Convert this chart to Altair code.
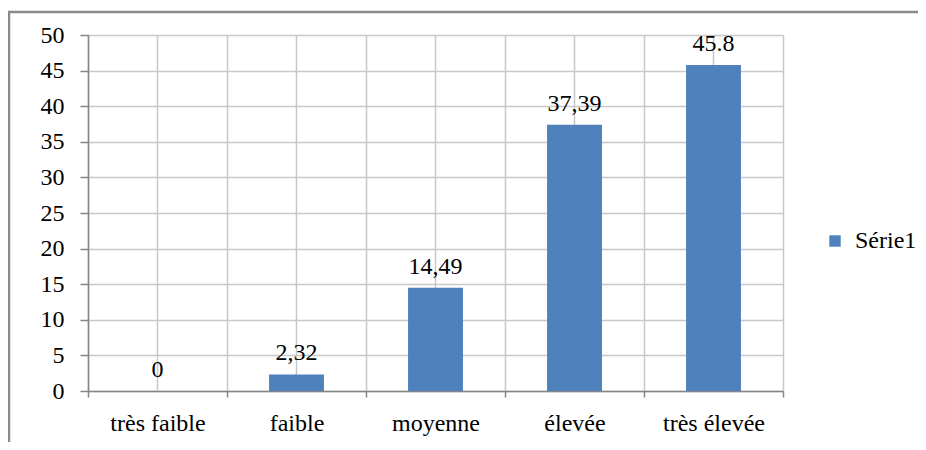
import altair as alt
import pandas as pd

categories = ["très faible", "faible", "moyenne", "élevée", "très élevée"]
values = [0, 2.32, 14.49, 37.39, 45.8]
value_labels = ["0", "2,32", "14,49", "37,39", "45.8"]
series = ["Série1"] * 5
y_ticks = list(range(0, 51, 5))

df = pd.DataFrame({"cat": categories, "val": values, "lab": value_labels, "serie": series})

FONT = "Times New Roman, Liberation Serif, serif"
GRID = "#c8c8c8"
AXIS = "#868686"
BLUE = "#4F81BD"
FS = 24

x_enc = alt.X(
    "cat:N", sort=categories,
    scale=alt.Scale(paddingInner=0, paddingOuter=0),
    axis=alt.Axis(title=None, labelAngle=0, tickBand="extent", grid=True,
                  gridColor=GRID, gridWidth=1.5, tickSize=6, tickColor=AXIS,
                  tickWidth=1.5, domainColor=AXIS, domainWidth=1.5,
                  labelPadding=14, labelFontSize=FS, labelFont=FONT,
                  labelColor="black", labelOverlap=False),
)
y_scale = alt.Scale(domain=[0, 50], nice=False)
y_axis = alt.Axis(values=y_ticks, title=None, grid=True, gridColor=GRID,
                  gridWidth=1.5, tickSize=8, tickColor=AXIS, tickWidth=1.5,
                  domainColor=AXIS, domainWidth=1.5, labelPadding=16,
                  labelFontSize=FS, labelFont=FONT, labelColor="black",
                  labelOverlap=False, labelFlush=False)
y_enc = alt.Y("val:Q", scale=y_scale, axis=y_axis)

base = alt.Chart(df)

centers = base.mark_rule(color=GRID, strokeWidth=1.5).encode(x=x_enc)

bars = base.mark_bar(width=alt.RelativeBandSize(0.395)).encode(
    x=x_enc,
    y=y_enc,
    color=alt.Color(
        "serie:N",
        scale=alt.Scale(domain=["Série1"], range=[BLUE]),
        legend=alt.Legend(title=None, orient="none", legendX=735, legendY=194,
                          symbolType="square", symbolSize=130,
                          symbolStrokeWidth=0, labelFontSize=FS,
                          labelFont=FONT, labelColor="black", labelOffset=8,
                          padding=0),
    ),
)

text = base.mark_text(dy=-14, baseline="alphabetic", font=FONT, fontSize=FS,
                      color="black").encode(
    x=x_enc,
    y=y_enc,
    text="lab:N",
)

one = alt.Data(values=[{"a": 1}])
frame_left = alt.Chart(one).mark_rule(color="#8a8a8a", strokeWidth=2.5).encode(
    x=alt.value(-79), y=alt.value(-23), y2=alt.value(470))
frame_top = alt.Chart(one).mark_rule(color="#8a8a8a", strokeWidth=2.5).encode(
    x=alt.value(-80), x2=alt.value(900), y=alt.value(-23))

chart = alt.layer(centers, bars, text, frame_left, frame_top).properties(
    width=695, height=356,
    padding={"left": 80, "top": 27, "right": 135, "bottom": 51},
    autosize=alt.AutoSizeParams(type="none"),
).configure_view(stroke=None).configure(background="white")

chart.save("out.html", embed_options={"renderer": "svg", "actions": False})
